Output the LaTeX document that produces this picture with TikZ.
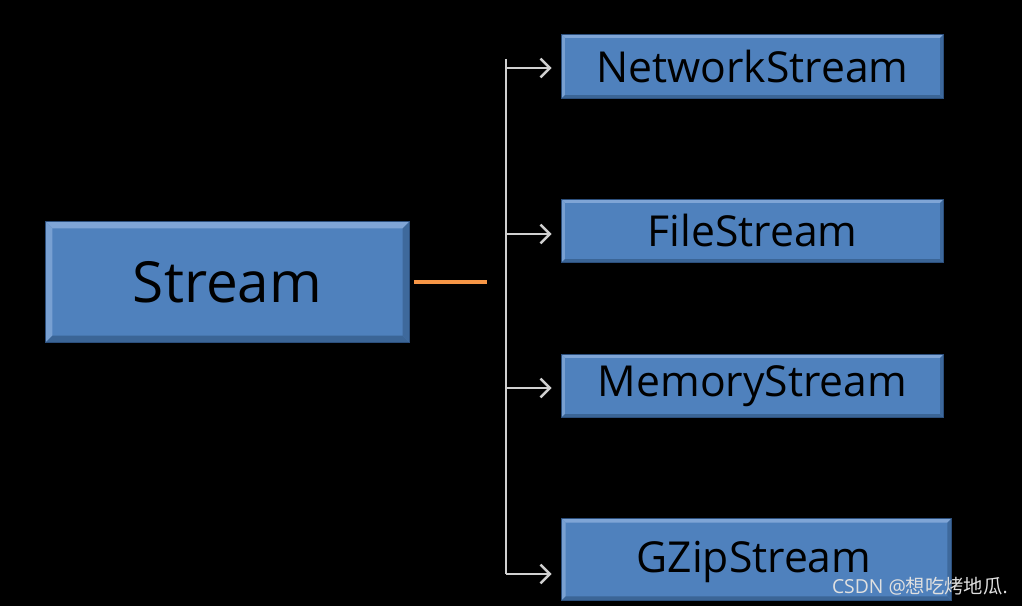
\documentclass[tikz,border=0pt]{standalone}
\usepackage{fontspec}
\setmainfont{Open Sans}
\newfontfamily\cjk{Noto Sans CJK SC}
\usetikzlibrary{arrows.meta}
\definecolor{boxfill}{HTML}{4F81BD}
\definecolor{boxlight}{HTML}{7FA5D6}
\definecolor{boxdark}{HTML}{3B6596}
\definecolor{boxedge}{HTML}{2C4F7C}
\definecolor{linegray}{HTML}{D0D0D0}
\definecolor{orangeline}{HTML}{F79646}
\tikzset{
  box/.style={draw=boxedge, line width=0.6pt, fill=boxfill, inner sep=0pt, text=black},
  branch/.style={draw=linegray, line width=1.9pt, -{Straight Barb[length=7pt,width=14pt,line width=1.9pt]}, shorten >=7.5pt},
  trunk/.style={draw=linegray, line width=1.9pt},
}
\newcommand{\mybevel}[2]{%
  \fill[boxlight] (#1.north west) -- (#1.north east) -- ([xshift=-#2,yshift=-#2]#1.north east) -- ([xshift=#2,yshift=-#2]#1.north west) -- cycle;
  \fill[boxlight!85!boxfill] (#1.north west) -- ([xshift=#2,yshift=-#2]#1.north west) -- ([xshift=#2,yshift=#2]#1.south west) -- (#1.south west) -- cycle;
  \fill[boxdark] (#1.south west) -- ([xshift=#2,yshift=#2]#1.south west) -- ([xshift=-#2,yshift=#2]#1.south east) -- (#1.south east) -- cycle;
  \fill[boxdark!85!boxfill] (#1.north east) -- (#1.south east) -- ([xshift=-#2,yshift=#2]#1.south east) -- ([xshift=-#2,yshift=-#2]#1.north east) -- cycle;
  \draw[boxedge, line width=0.6pt] (#1.north west) rectangle (#1.south east);
}
\begin{document}
\begin{tikzpicture}[x=0.75pt,y=-0.75pt]
\fill[black] (0,0) rectangle (1022,606);
\useasboundingbox (0,0) rectangle (1022,606);

% boxes
\node[box, minimum width=272.25pt, minimum height=90pt] (stream) at (227.5,282) {};
\node[box, minimum width=285.75pt, minimum height=47.25pt] (net) at (752.5,66.5) {};
\node[box, minimum width=285.75pt, minimum height=46.5pt] (file) at (752.5,231) {};
\node[box, minimum width=285.75pt, minimum height=46.5pt] (mem) at (752.5,386) {};
\node[box, minimum width=291.75pt, minimum height=60.75pt] (gzip) at (756.5,559.5) {};
\mybevel{stream}{5pt}
\mybevel{net}{2.5pt}
\mybevel{file}{2.5pt}
\mybevel{mem}{2.5pt}
\mybevel{gzip}{3pt}

% labels
\node[font=\fontsize{42.5}{48}\selectfont] (streamt) at (stream) {Stream};
\node[font=\fontsize{32}{36}\selectfont] (nett) at (net) {NetworkStream};
\node[font=\fontsize{32}{36}\selectfont] (filet) at (file) {FileStream};
\node[font=\fontsize{32}{36}\selectfont] (memt) at (mem) {MemoryStream};
\node[font=\fontsize{32}{36}\selectfont] (gzipt) at (754,562) {GZipStream};

% connectors
\coordinate (o1) at (414,282);
\coordinate (o2) at (487,282);
\draw[orangeline, line width=2.8pt] (o1) -- (o2);

\coordinate (ttop) at (506,59);
\coordinate (j1) at (506,68);
\coordinate (j2) at (506,234);
\coordinate (j3) at (506,388);
\coordinate (j4) at (506,574);
\draw[trunk] (ttop) -- (j4);
\draw[branch] (j1) -- (net.west |- j1);
\draw[branch] (j2) -- (file.west |- j2);
\draw[branch] (j3) -- (mem.west |- j3);
\draw[branch] (j4) -- (gzip.west |- j4);

% watermark
\node[anchor=east, text=white!88!black, font=\fontsize{14.5}{16}\selectfont, inner sep=0pt] (wm) at (1008,586) {CSDN @{\cjk 想吃烤地瓜}.};
\end{tikzpicture}
\end{document}
